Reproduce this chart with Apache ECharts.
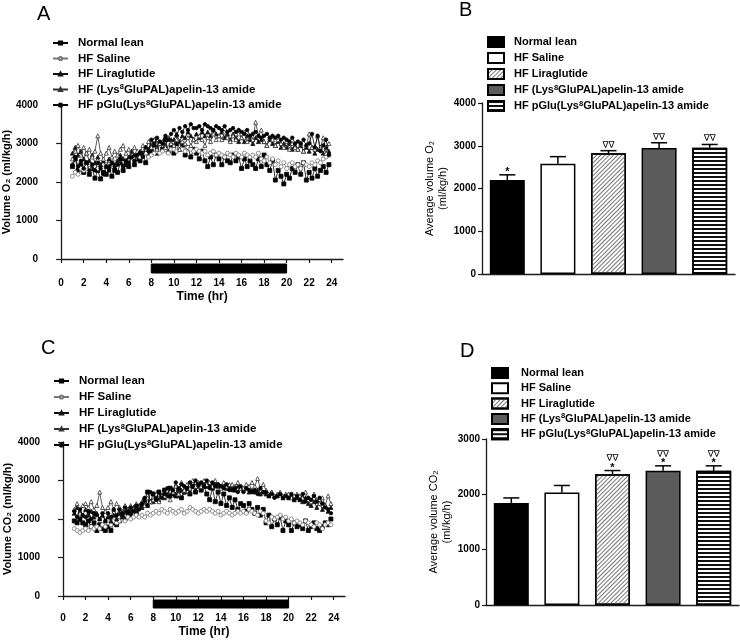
<!DOCTYPE html>
<html><head><meta charset="utf-8">
<script src="https://cdn.jsdelivr.net/npm/echarts@6/dist/echarts.min.js"></script>
<style>html,body{margin:0;padding:0;background:#fff}#c{width:740px;height:640px}</style>
</head><body><div id="c"></div>
<script>
const GROUPS = ['Normal lean','HF Saline','HF Liraglutide','HF (Lys8GluPAL)apelin-13 amide','HF pGlu(Lys8GluPAL)apelin-13 amide'];
const X_TICKS = [0,2,4,6,8,10,12,14,16,18,20,22,24];
const DARK_PHASE = [[8,20]];
const TIMES = [
1,1.25,1.5,1.75, 2,2.25,2.5,2.75, 3,3.25,3.5,3.75, 4,4.25,4.5,4.75,
5,5.25,5.5,5.75, 6,6.25,6.5,6.75, 7,7.25,7.5,7.75, 8,8.25,8.5,8.75,
9,9.25,9.5,9.75, 10,10.25,10.5,10.75, 11,11.25,11.5,11.75, 12,12.25,12.5,12.75,
13,13.25,13.5,13.75, 14,14.25,14.5,14.75, 15,15.25,15.5,15.75, 16,16.25,16.5,16.75,
17,17.25,17.5,17.75, 18,18.25,18.5,18.75, 19,19.25,19.5,19.75, 20,20.25,20.5,20.75,
21,21.25,21.5,21.75, 22,22.25,22.5,22.75, 23,23.25,23.5,23.75];

// Panel A: O2 (ml/kg/h)
const O2_NORMAL = [
2400,2600,2300,2450, 2250,2500,2200,2350, 2100,2300,2080,2250, 2200,2400,2150,2300,
2250,2500,2300,2450, 2400,2650,2450,2600, 2550,2750,2500,2700, 2800,3050,2750,3000,
2850,3100,2800,2950, 2750,3000,2850,2950, 2700,2900,2650,2850, 2750,2600,2800,2550,
2400,2650,2450,2700, 2600,2450,2650,2550, 2500,2700,2550,2650, 2350,2600,2400,2550,
2450,2350,2600,2400, 2700,2450,2300,2550, 2050,2300,2150,1950, 2200,2100,2350,2250,
2450,2200,2500,2050, 2250,2100,2350,2150, 2300,2400,2250,2450];
const O2_SALINE = [
2150,2250,2200,2350, 2300,2400,2350,2450, 2400,2350,2500,2450, 2450,2550,2500,2600,
2500,2600,2550,2650, 2600,2650,2600,2700, 2650,2700,2750,2650, 2700,2750,2800,2750,
2800,2850,2750,2850, 2850,2800,2900,2850, 2800,2900,2850,2800, 2850,2800,2750,2800,
2700,2750,2800,2700, 2750,2700,2650,2750, 2700,2650,2750,2700, 2650,2750,2700,2650,
2700,2650,2750,2600, 2550,2650,2500,2600, 2450,2550,2400,2500, 2350,2450,2500,2400,
2450,2350,2500,2450, 2400,2500,2450,2550, 2500,2600,2650,2700];
const O2_LIRA = [
2750,2900,2700,2800, 2600,2750,2550,2700, 2500,2650,2450,2550, 2400,2600,2500,2450,
2550,2700,2600,2500, 2650,2800,2700,2750, 2800,2700,2900,2850, 2950,3100,2900,3000,
3050,2950,3150,3100, 3100,3250,3050,3200, 3150,3300,3200,3100, 3250,3150,3300,3200,
3300,3200,3350,3250, 3200,3300,3150,3250, 3100,3250,3150,3050, 3150,3050,3200,3100,
3000,3150,3050,3100, 3050,2950,3100,3000, 2950,3050,2900,3000, 2900,3000,2850,2950,
2850,2950,2800,2900, 2800,2900,2750,2850, 2850,2750,2900,2800];
const O2_LYS = [
2600,2800,2950,2700, 2900,2750,2850,2650, 2800,3200,2750,2600, 2750,2900,2650,2800,
2700,2850,2950,2750, 2850,2700,2900,2800, 2750,2950,2850,3050, 2900,3100,2850,3000,
3050,2900,3150,3000, 2950,3100,2850,3050, 3000,3150,2950,3100, 3050,3200,3100,2950,
3150,3050,3250,3100, 3200,3100,3300,3150, 3050,3200,3100,3250, 3150,3300,3050,3200,
3100,3550,3200,3350, 3050,2950,3150,3100, 2950,3100,3000,2900, 3050,2850,3000,2900,
2850,3000,2800,2950, 3250,2900,2850,3200, 2900,3150,2750,3000];
const O2_PGLU = [
2450,2650,2400,2550, 2350,2500,2300,2450, 2300,2500,2350,2200, 2400,2300,2500,2350,
2450,2600,2400,2550, 2500,2650,2550,2700, 2750,2650,2900,2800, 3100,2950,3150,3050,
3000,3200,3100,3250, 3350,3200,3400,3300, 3450,3350,3500,3400, 3400,3450,3350,3500,
3450,3400,3350,3450, 3400,3350,3450,3300, 3350,3400,3300,3350, 3300,3250,3350,3200,
3250,3300,3200,3150, 3200,3250,3150,3200, 3150,3200,3100,3150, 3100,3050,3150,3000,
3050,3000,3100,2950, 3000,3250,2900,3200, 2800,2950,3100,2700];

// Panel C: CO2 (ml/kg/h)
const CO2_NORMAL = [
1950,1900,2000,1900, 1850,1950,1800,1900, 1700,1850,1750,1700, 1800,1700,1900,1850,
1950,2100,2000,2150, 2100,2250,2150,2300, 2350,2500,2700,2450, 2650,2550,2700,2600,
2750,2600,2800,2650, 2600,2750,2550,2700, 2800,2650,2850,2700, 2900,2750,2850,2650,
2500,2800,2450,2700, 2400,2650,2350,2550, 2300,2500,2250,2400, 2350,2200,2400,2250,
2150,2300,2100,2250, 1900,2100,1800,2000, 1850,2050,1700,1950, 1850,1700,1900,1800,
1850,1750,1950,1700, 1800,1900,1750,1700, 1800,1900,1850,2000];
const CO2_SALINE = [
1750,1700,1650,1700, 1750,1700,1800,1750, 1800,1750,1850,1800, 1900,1850,1950,1900,
1950,2000,1950,2050, 2000,2050,2100,2050, 2100,2050,2150,2100, 2150,2200,2150,2250,
2200,2150,2250,2200, 2150,2200,2250,2150, 2200,2300,2250,2200, 2150,2200,2250,2200,
2250,2200,2150,2200, 2100,2150,2200,2150, 2100,2150,2200,2150, 2200,2150,2250,2200,
2150,2100,2200,2150, 1950,1900,2050,2000, 2050,2100,2000,2050, 1950,2000,1900,1950,
1900,1850,1950,1900, 1850,1800,1900,1850, 1750,1850,1900,1850];
const CO2_LIRA = [
2150,2300,2200,2100, 2250,2100,2200,2050, 2150,2000,2100,1950, 2050,1950,2100,2000,
2150,2050,2200,2250, 2200,2300,2250,2350, 2300,2400,2350,2450, 2450,2550,2500,2600,
2550,2650,2600,2700, 2650,2600,2750,2700, 2800,2700,2850,2750, 2850,2800,2900,2850,
2900,2850,2950,2850, 2850,2900,2800,2850, 2800,2750,2850,2800, 2750,2800,2700,2750,
2700,2750,2650,2700, 2650,2600,2700,2600, 2600,2650,2550,2600, 2550,2600,2500,2550,
2500,2450,2550,2400, 2350,2450,2300,2400, 2250,2350,2200,2300];
const CO2_LYS = [
2250,2400,2150,2350, 2400,2300,2450,2250, 2350,2700,2300,2200, 2300,2450,2250,2400,
2300,2200,2350,2250, 2350,2250,2400,2300, 2450,2350,2550,2450, 2500,2650,2450,2600,
2600,2750,2500,2700, 2850,2650,2950,2750, 2900,2800,3000,2850, 2950,2850,3000,2900,
2950,2850,3000,2900, 2800,2950,2850,2900, 2900,2850,2950,2800, 2800,2900,2850,2950,
2850,3050,2800,2900, 2750,2650,2700,2600, 2650,2700,2600,2650, 2650,2550,2600,2650,
2600,2550,2700,2500, 2450,2650,2500,2400, 2550,2350,2600,2400];
const CO2_PGLU = [
2200,2050,2250,2100, 2050,2200,2000,2150, 2100,2000,2150,1950, 2150,2050,2250,2100,
2250,2150,2300,2200, 2300,2200,2350,2250, 2400,2550,2350,2700, 2650,2500,2700,2550,
2650,2800,2600,2750, 2950,2800,2900,2850, 2800,2950,2850,3000, 2900,2950,2850,3000,
2800,2950,2850,2900, 2850,2800,2900,2750, 2750,2800,2700,2850, 2700,2800,2750,2700,
2750,2650,2800,2700, 2700,2600,2650,2550, 2600,2650,2550,2600, 2550,2650,2500,2600,
2500,2650,2450,2550, 2500,2600,2450,2550, 2400,2300,2250,2150];

// Panel B: average O2
const B_MEAN = [2200,2580,2825,2950,2955];
const B_SEM  = [120,165,60,120,75];
const B_STAR = ['*','','','',''];
const B_NABLA = ['','','∇∇','∇∇','∇∇'];
// Panel D: average CO2
const D_MEAN = [1845,2035,2365,2425,2425];
const D_SEM  = [90,125,65,90,90];
const D_STAR = ['','','*','*','*'];
const D_NABLA = ['','','∇∇','∇∇','∇∇'];

const F = 'Arial, "Liberation Sans", sans-serif';
const AX = '#1a1a1a';
const LINE_STYLES = [
  {symbol:'rect', size:4, fill:'#000', stroke:'#000', line:'#000'},
  {symbol:'circle', size:4, fill:'#fff', stroke:'#777', line:'#777'},
  {symbol:'triangle', size:4, fill:'#111', stroke:'#111', line:'#111'},
  {symbol:'triangle', size:4, fill:'#fff', stroke:'#333', line:'#333'},
  {symbol:'circle', size:3.5, fill:'#000', stroke:'#000', line:'#000'}
];
const BAR_STYLES = [
  {color:'#000', borderColor:'#000', borderWidth:1.5},
  {color:'#fff', borderColor:'#000', borderWidth:1.5},
  {color:'#fff', borderColor:'#000', borderWidth:1.5,
    decal:{symbol:'rect', symbolSize:1, dashArrayX:[1,0], dashArrayY:[1,1.8], rotation:-Math.PI/4, color:'#777'}},
  {color:'#5c5c5c', borderColor:'#000', borderWidth:1.5},
  {color:'#fff', borderColor:'#000', borderWidth:1.5,
    decal:{symbol:'rect', symbolSize:1, dashArrayX:[1,0], dashArrayY:[1.2,1.8], rotation:0, color:'#111'}}
];

// rich text: raise the "8" of Lys8 as a superscript
function makeRich(fs){
  return {
    b:{fontSize:fs, fontWeight:'bold', fontFamily:F, color:'#000'},
    s:{fontSize:7.5, fontWeight:'bold', fontFamily:F, color:'#000', verticalAlign:'top', padding:[0,0,5,0]}
  };
}
function richName(name){
  const t = name.trim();
  const k = t.indexOf('Lys8');
  if (k < 0) return '{b|' + t + '}';
  return '{b|' + t.slice(0,k+3) + '}{s|8}{b|' + t.slice(k+4) + '}';
}

function lineSeries(vals, i, g, suf){
  const s = LINE_STYLES[i];
  return {type:'line', name:GROUPS[i]+suf, xAxisIndex:g, yAxisIndex:g,
    data: TIMES.map((t,k)=>[t, vals[k]]), symbol:s.symbol, symbolSize:s.size, showSymbol:true,
    lineStyle:{width:0.8, color:s.line}, itemStyle:{color:s.fill, borderColor:s.stroke, borderWidth:0.8},
    emphasis:{disabled:true}, z:3+i};
}
function darkSeries(g){
  return {type:'custom', xAxisIndex:g, yAxisIndex:g, data:DARK_PHASE,
    renderItem(params, api){
      const p0 = api.coord([api.value(0), 1]);
      const p1 = api.coord([api.value(1), 0]);
      return {type:'rect', shape:{x:p0[0], y:p0[1], width:p1[0]-p0[0], height:p1[1]-p0[1]},
        style:{fill:'#000', stroke:'#000', lineWidth:1}};
    }};
}
function barSeries(means, g, suf){
  return GROUPS.map((name,i)=>({type:'bar', name:name+suf, xAxisIndex:g, yAxisIndex:g,
    data: means.map((v,k)=> k===i ? v : '-'), barWidth:35, barGap:'-100%',
    itemStyle:BAR_STYLES[i], emphasis:{disabled:true}}));
}
function errSeries(means, sems, stars, nablas, g){
  return {type:'custom', xAxisIndex:g, yAxisIndex:g, z:10,
    data: means.map((m,i)=>[i,m,sems[i]]),
    renderItem(params, api){
      const i = api.value(0), m = api.value(1), s = api.value(2);
      const b = api.coord([i,m]), t = api.coord([i,m+s]);
      const ch = [
        {type:'line', shape:{x1:b[0],y1:b[1],x2:t[0],y2:t[1]}, style:{stroke:'#000', lineWidth:1.5}},
        {type:'line', shape:{x1:t[0]-8,y1:t[1],x2:t[0]+8,y2:t[1]}, style:{stroke:'#000', lineWidth:1.5}}
      ];
      const st = stars[params.dataIndex], nb = nablas[params.dataIndex];
      let y = t[1]-1;
      if (st) {
        ch.push({type:'text', style:{text:st, x:t[0], y:y+4, align:'center', verticalAlign:'bottom', font:'bold 11px '+F, fill:'#000'}});
        y -= 6;
      }
      if (nb) {
        ch.push({type:'text', style:{text:nb, x:t[0], y:y, align:'center', verticalAlign:'bottom', font:'9px "DejaVu Sans", sans-serif', fill:'#000'}});
      }
      return {type:'group', children:ch};
    }};
}

const axLine = {show:true, lineStyle:{color:AX, width:1.3}};
const lbl = {fontSize:10, fontWeight:'bold', fontFamily:F, color:'#000'};
const plain = v => String(v);

function lineLegend(left, top, suf, gap){
  return {data:GROUPS.map(g=>g+suf), left, top, orient:'vertical', itemWidth:15, itemHeight:4, itemGap:gap,
    selectedMode:false, padding:0, formatter:richName,
    textStyle:{fontSize:11.5, fontWeight:'bold', fontFamily:F, color:'#000', lineHeight:13, padding:[0,0,0,5], rich:makeRich(11.5)}};
}
function barLegend(left, top, suf, gap, pad){
  return {data:GROUPS.map(g=>g+suf), left, top, orient:'vertical', itemWidth:16, itemHeight:10, itemGap:gap, icon:'rect',
    selectedMode:false, padding:0, formatter:richName,
    textStyle:{fontSize:11, fontWeight:'bold', fontFamily:F, color:'#000', lineHeight:13, padding:[0,0,0,pad], rich:makeRich(11)}};
}
function timeAxis(g, off){
  return {type:'value', gridIndex:g, min:0, max:25, interval:2, offset:off,
    axisLine:axLine, axisTick:{show:true, length:4, lineStyle:{color:AX, width:1.2}, customValues:X_TICKS},
    axisLabel:Object.assign({margin:5, customValues:X_TICKS, formatter:plain}, lbl), splitLine:{show:false},
    name:'Time (hr)', nameLocation:'middle', nameGap:18,
    nameTextStyle:{fontSize:12, fontWeight:'bold', fontFamily:F, color:'#000'}};
}
function volAxis(g, name, gap){
  return {type:'value', gridIndex:g, min:0, max:4000, interval:1000, offset:16,
    axisLine:axLine, axisTick:{show:true, length:5, lineStyle:{color:AX, width:1.2}},
    axisLabel:Object.assign({margin:7, formatter:plain}, lbl), splitLine:{show:false},
    name, nameLocation:'middle', nameGap:gap,
    nameTextStyle:{fontSize:11, fontWeight:'bold', fontFamily:F, color:'#000'}};
}
function hidden(g, min, max){
  return {type:'value', gridIndex:g, min, max, show:false};
}
function catAxis(g){
  return {type:'category', gridIndex:g, data:GROUPS, axisLine:axLine, axisTick:{show:false}, axisLabel:{show:false}};
}
function avgAxis(g, max, name, gap){
  return {type:'value', gridIndex:g, min:0, max, interval:1000,
    axisLine:axLine, axisTick:{show:true, length:4, lineStyle:{color:AX, width:1.2}},
    axisLabel:Object.assign({margin:6, formatter:plain}, lbl), splitLine:{show:false},
    name, nameLocation:'middle', nameGap:gap,
    nameTextStyle:{fontSize:11, fontFamily:F, color:'#000', lineHeight:13}};
}

const letter = (t, left, top) => ({text:t, left, top, padding:0, textStyle:{fontSize:20, fontWeight:'normal', fontFamily:F, color:'#000'}});

const option = {
  animation:false,
  backgroundColor:'#fff',
  title:[letter('A',37,4), letter('B',459,0), letter('C',41,338), letter('D',460,341)],
  legend:[lineLegend(52,36.5,'',2.5), barLegend(487,35.5,' ',3,5), lineLegend(53,374.5,'  ',3), barLegend(491,366.5,'   ',2.3,8)],
  grid:[
    {left:61, top:105, width:282, height:154},
    {left:61, top:264, width:282, height:9},
    {left:482, top:103, width:253, height:171},
    {left:63, top:442, width:282, height:154},
    {left:63, top:600, width:282, height:8},
    {left:486, top:439, width:253, height:166}
  ],
  xAxis:[timeAxis(0,14), hidden(1,0,25), catAxis(2), timeAxis(3,12), hidden(4,0,25), catAxis(5)],
  yAxis:[volAxis(0,'Volume O₂ (ml/kg/h)',33), hidden(1,0,1), avgAxis(2,4000,'Average volume O₂\n(ml/kg/h)',30),
         volAxis(3,'Volume CO₂ (ml/kg/h)',33), hidden(4,0,1), avgAxis(5,3000,'Average volume CO₂\n(ml/kg/h)',33)],
  series:[
    lineSeries(O2_NORMAL,0,0,''), lineSeries(O2_SALINE,1,0,''), lineSeries(O2_LIRA,2,0,''),
    lineSeries(O2_LYS,3,0,''), lineSeries(O2_PGLU,4,0,''),
    darkSeries(1),
    ...barSeries(B_MEAN,2,' '), errSeries(B_MEAN,B_SEM,B_STAR,B_NABLA,2),
    lineSeries(CO2_NORMAL,0,3,'  '), lineSeries(CO2_SALINE,1,3,'  '), lineSeries(CO2_LIRA,2,3,'  '),
    lineSeries(CO2_LYS,3,3,'  '), lineSeries(CO2_PGLU,4,3,'  '),
    darkSeries(4),
    ...barSeries(D_MEAN,5,'   '), errSeries(D_MEAN,D_SEM,D_STAR,D_NABLA,5)
  ]
};
const chart = echarts.init(document.getElementById('c'), null, {renderer:'canvas'});
chart.setOption(option);
</script></body></html>
